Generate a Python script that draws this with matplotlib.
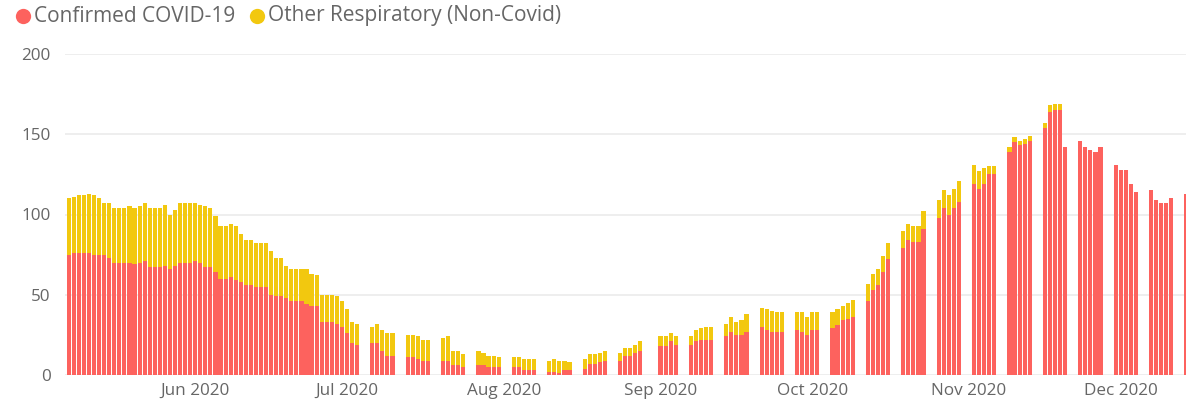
import numpy as np
import pandas as pd
import matplotlib
matplotlib.use("Agg")
import matplotlib.pyplot as plt
import matplotlib.dates as mdates

# daily figures up to early July, then weekdays only (31 Aug bank holiday missing)
daily_days = pd.date_range("2020-05-07", "2020-07-03")
weekday_days = pd.bdate_range("2020-07-06", "2020-12-14").drop(pd.Timestamp("2020-08-31"))
dates = daily_days.append(weekday_days)

covid = [
    75, 76, 76, 76, 76, 75, 75, 75, 73, 70, 70, 70, 70, 69, 70, 71, 67, 67, 67, 68,
    66, 68, 70, 70, 70, 71, 70, 67, 67, 64, 60, 60, 61, 59, 58, 56, 56, 55, 55, 55,
    50, 49, 49, 48, 46, 46, 46, 44, 43, 43, 33, 33, 33, 32, 30, 26, 20, 19,
    20, 20, 15, 12, 12,
    11, 11, 10, 9, 9,
    9, 9, 6, 6, 5,
    6, 6, 5, 5, 5,
    5, 5, 3, 3, 3,
    2, 2, 1, 3, 3,
    4, 7, 7, 8, 9,
    9, 12, 12, 14, 15,
    18, 18, 21, 19,
    19, 21, 22, 22, 22,
    24, 27, 25, 25, 27,
    30, 28, 27, 27, 27,
    28, 27, 25, 28, 28,
    29, 31, 34, 35, 36,
    46, 53, 56, 64, 72,
    79, 84, 83, 83, 91,
    98, 104, 100, 104, 108,
    119, 116, 119, 125, 125,
    139, 145, 143, 144, 146,
    154, 164, 165, 165, 142,
    146, 142, 140, 139, 142,
    131, 128, 128, 119, 114,
    115, 109, 107, 107, 110,
    113,
]

other = [
    35, 35, 36, 36, 37, 37, 35, 32, 34, 34, 34, 34, 35, 35, 35, 36, 37, 37, 37, 38,
    34, 35, 37, 37, 37, 36, 36, 38, 37, 35, 33, 33, 33, 34, 30, 28, 28, 27, 27, 27,
    27, 24, 24, 20, 20, 20, 20, 22, 20, 19, 17, 17, 17, 17, 16, 15, 13, 13,
    10, 12, 13, 14, 14,
    14, 14, 14, 13, 13,
    14, 15, 9, 9, 8,
    9, 8, 7, 7, 6,
    6, 6, 7, 7, 7,
    7, 8, 8, 6, 5,
    6, 6, 6, 6, 6,
    5, 5, 5, 5, 6,
    6, 6, 5, 5,
    5, 7, 7, 8, 8,
    8, 9, 8, 9, 11,
    12, 13, 13, 12, 12,
    11, 12, 11, 11, 11,
    10, 10, 9, 10, 11,
    11, 10, 10, 10, 10,
    11, 10, 10, 10, 11,
    11, 11, 12, 12, 13,
    12, 11, 10, 5, 5,
    3, 3, 3, 3, 3,
    3, 4, 4, 4, 0,
    0, 0, 0, 0, 0,
    0, 0, 0, 0, 0,
    0, 0, 0, 0, 0,
    0,
]

series_names = ["Confirmed COVID-19", "Other Respiratory (Non-Covid)"]
colors = ["#FD625E", "#F2C80F"]
month_ticks = pd.date_range("2020-06-01", "2020-12-01", freq="MS")

plt.rcParams["font.family"] = ["Open Sans", "DejaVu Sans"]

W, H = 1186, 404
fig = plt.figure(figsize=(W / 100, H / 100), dpi=100)
ax = fig.add_axes([65 / W, 29 / H, 1121 / W, 321 / H])

x = mdates.date2num(dates)
ax.bar(x, covid, width=0.82, color=colors[0], linewidth=0, zorder=2)
ax.bar(x, other, width=0.82, bottom=covid, color=colors[1], linewidth=0, zorder=2)

start = mdates.date2num(pd.Timestamp("2020-05-07"))
ax.set_xlim(start - 0.75, start + 220.9)
ax.set_ylim(0, 200)

ax.set_yticks([0, 50, 100, 150, 200])
ax.yaxis.grid(True, color="#EBEBEB", linewidth=1.2, zorder=0)
ax.set_xticks(mdates.date2num(month_ticks))
ax.set_xticklabels([d.strftime("%b %Y") for d in month_ticks])
ax.tick_params(axis="both", length=0, labelsize=12.3, labelcolor="#666666")
ax.tick_params(axis="y", pad=10.5)
ax.tick_params(axis="x", pad=6)
for spine in ax.spines.values():
    spine.set_visible(False)

# legend row along the top edge, laid out in pixels
legend_y = 1 - 16 / H
for (dot_x, text_x), name, c in zip([(23, 34), (257, 268)], series_names, colors):
    fig.lines.append(plt.Line2D([dot_x / W], [legend_y], marker="o", markersize=11,
                                markerfacecolor=c, markeredgewidth=0, linestyle="none",
                                transform=fig.transFigure))
    fig.text(text_x / W, legend_y, name, fontsize=15, color="#666666",
             ha="left", va="center")

fig.savefig("out.png", dpi=100, facecolor="white")
